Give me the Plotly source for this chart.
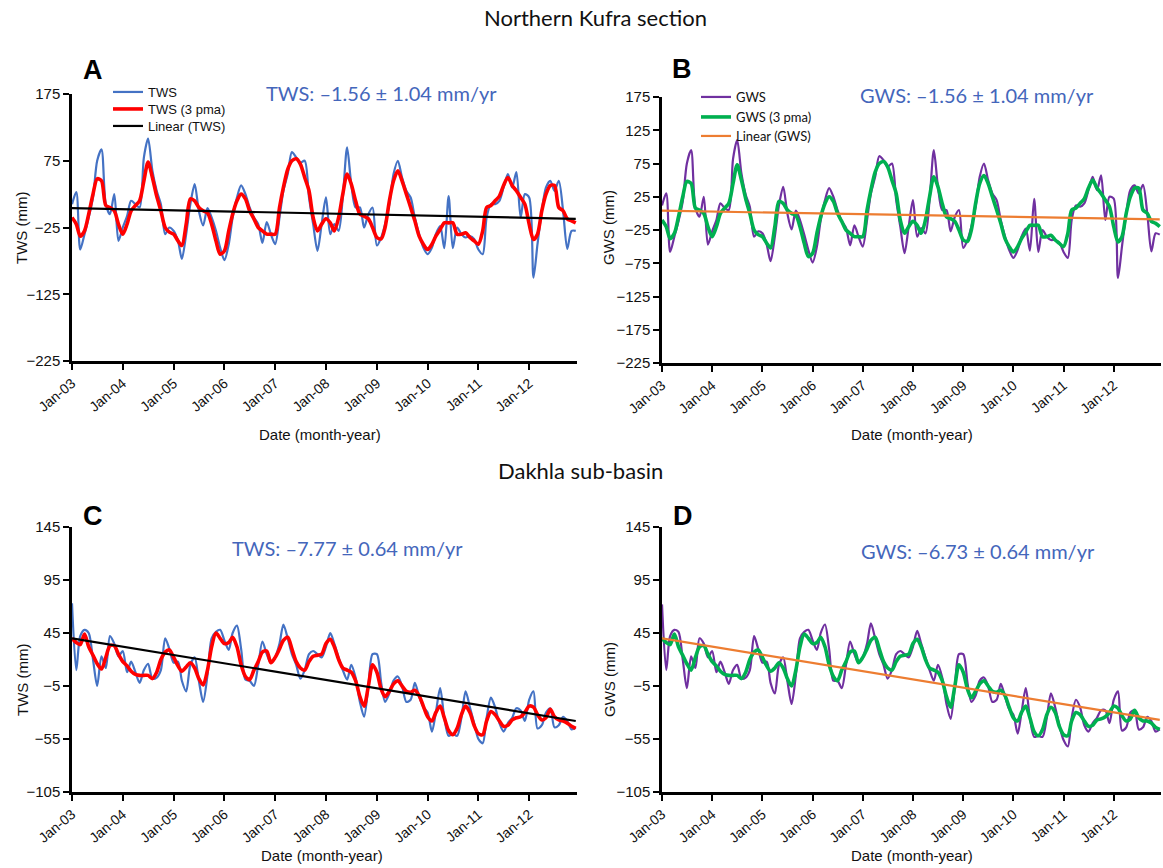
import pandas as pd
import plotly.graph_objects as go

W, H = 1163, 868
dates = pd.date_range("2003-01-01", periods=120, freq="MS")

# ---------------- Panel A : Northern Kufra TWS ----------------
tws_a = [10, 28, -58, -35, -10, 20, 75, 92, 10, -5, 25, -45,
         -25, -8, 15, 10, 5, 80, 108, 60, 30, 10, -35, -25,
         -30, -45, -72, -35, 10, 40, 0, -22, 4, -10, -30, -55,
         -74, -50, -10, 20, 38, 25, 5, -10, -20, -48, -17, -35,
         -50, -10, 30, 55, 88, 80, 72, 75, 20, -20, -60, -20,
         20, -35, -20, -30, 20, 95, 40, 5, 5, -25, -5, 5,
         -52, -40, -20, 10, 55, 75, 50, 30, 20, -10, -35, -55,
         -65, -55, -35, -23, -56, 22, -56, -25, -35, -40, -38, -42,
         -58, -65, -10, 10, 10, 15, 35, 55, 35, 58, -10, 25,
         20, -100, -50, 0, 35, 45, 30, 45, 0, -57, -30, -30]
tws_a_pma = [-10, -20, -38, -30, -5, 25, 48, 45, 8, 5, 0, -20,
             -35, -20, 0, 8, 15, 45, 73, 50, 22, 0, -25, -32,
             -35, -45, -52, -20, 18, 15, 5, 0, -3, -20, -45, -65,
             -60, -30, -5, 15, 25, 18, 0, -12, -25, -30, -35, -35,
             -35, 5, 35, 62, 75, 78, 70, 50, 30, -10, -30, -20,
             -12, -18, -30, -10, 25, 55, 40, 15, -5, -8, -12, -25,
             -40, -42, -25, 15, 45, 60, 45, 25, 5, -15, -38, -50,
             -58, -50, -38, -28, -18, -18, -18, -35, -35, -33, -40, -45,
             -50, -30, 5, 8, 15, 22, 38, 50, 38, 30, 20, 10,
             -20, -43, -35, 0, 25, 38, 38, 5, 0, -12, -15, -18]
lin_a = [4, -12]

# ---------------- Panel B : Northern Kufra GWS ----------------
gws_b = [12, 30, -58, -35, -12, 18, 75, 95, 8, -5, 25, -47,
         -27, -10, 15, 8, 5, 82, 110, 60, 28, 10, -35, -27,
         -30, -47, -72, -35, 12, 40, 0, -24, 4, -10, -32, -55,
         -74, -50, -10, 20, 38, 25, 5, -12, -22, -48, -18, -35,
         -50, -10, 30, 55, 86, 80, 70, 75, 20, -20, -60, -20,
         20, -35, -22, -30, 20, 95, 40, 5, 5, -27, -5, 5,
         -52, -40, -20, 10, 55, 75, 50, 30, 20, -10, -35, -55,
         -67, -55, -35, -23, -56, 22, -58, -25, -35, -40, -40, -44,
         -58, -67, -10, 12, 10, 15, 35, 55, 35, 57, -10, 25,
         22, -97, -50, 0, 35, 42, 30, 43, 0, -57, -30, -32]
gws_b_pma = [-10, -20, -38, -30, -5, 25, 48, 45, 8, 5, 0, -20,
             -35, -20, 0, 8, 15, 45, 73, 50, 22, 0, -25, -32,
             -35, -45, -52, -20, 18, 15, 5, 0, -3, -20, -45, -65,
             -60, -30, -5, 15, 25, 18, 0, -12, -25, -30, -35, -35,
             -35, 5, 35, 62, 75, 78, 70, 50, 30, -10, -30, -20,
             -12, -18, -30, -10, 25, 55, 40, 15, -5, -8, -12, -25,
             -40, -42, -25, 15, 45, 57, 45, 25, 5, -15, -38, -50,
             -58, -50, -38, -28, -18, -18, -18, -35, -35, -33, -40, -45,
             -50, -30, 5, 8, 15, 22, 38, 50, 38, 30, 20, 10,
             -20, -43, -35, 0, 25, 38, 38, 5, 0, -12, -15, -20]
lin_b = [4, -9]

# ---------------- Panel C : Dakhla TWS ----------------
tws_c = [73, 10, 42, 48, 45, 20, -5, 23, 12, 42, 35, 23,
         28, 8, 18, 8, -2, 10, 16, 2, 3, 10, 40, 30,
         17, 18, 0, -10, 15, 22, 0, -20, 5, 40, 46, 48,
         38, 29, 45, 52, 30, 1, 0, -5, 15, 37, 25, 17,
         22, 35, 53, 40, 25, 15, 2, 10, 25, 28, 25, 22,
         32, 45, 35, 22, 10, 1, 15, 3, -20, -34, -5, 25,
         25, -2, -20, -12, 0, 4, -5, -20, -18, -2, -15, -25,
         -30, -48, -30, -7, -35, -52, -50, -52, -35, -10, -25, -40,
         -55, -59, -35, -16, -25, -40, -48, -40, -35, -26, -28, -38,
         -18, -10, -45, -42, -30, -26, -44, -42, -34, -38, -46, -44]
tws_c_pma = [40, 36, 34, 44, 32, 24, 16, 11, 22, 33, 33, 25,
             18, 14, 9, 6, 5, 5, 5, 2, 8, 20, 27, 29,
             22, 14, 9, 13, 17, 12, 2, -4, 10, 32, 45, 40,
             35, 36, 41, 32, 15, 4, 1, 10, 18, 27, 28, 17,
             22, 30, 38, 41, 30, 18, 12, 10, 18, 23, 24, 25,
             35, 39, 32, 20, 12, 10, 8, 0, -15, -24, -5, 15,
             8, -8, -15, -10, -3, 0, -5, -10, -11, -9, -14, -24,
             -34, -38, -30, -24, -35, -47, -51, -45, -32, -24, -30, -42,
             -50, -51, -38, -29, -32, -38, -43, -42, -37, -35, -34, -30,
             -24, -25, -32, -37, -35, -27, -34, -37, -38, -40, -43, -45]
lin_c = [40, -38]

# ---------------- Panel D : Dakhla GWS ----------------
gws_d = [72, 10, 42, 48, 46, 20, -7, 23, 12, 40, 35, 22,
         28, 8, 18, 8, -3, 10, 15, 2, 3, 10, 42, 30,
         17, 18, -2, -12, 15, 22, 0, -22, 5, 40, 46, 48,
         38, 29, 45, 53, 30, 0, 0, -7, 15, 37, 25, 17,
         22, 35, 54, 40, 25, 15, 2, 10, 25, 28, 25, 22,
         32, 47, 35, 22, 10, 0, 15, 3, -22, -36, -5, 25,
         25, -2, -20, -14, 0, 3, -5, -20, -18, -3, -15, -27,
         -32, -50, -30, -7, -35, -53, -52, -53, -35, -12, -25, -42,
         -56, -62, -35, -18, -25, -42, -48, -40, -35, -28, -28, -40,
         -18, -10, -47, -44, -30, -28, -46, -44, -34, -38, -48, -46]
gws_d_pma = [40, 36, 34, 44, 32, 24, 16, 10, 22, 32, 33, 25,
             18, 14, 9, 6, 5, 5, 5, 2, 8, 20, 27, 29,
             22, 14, 9, 12, 17, 12, 2, -5, 10, 32, 44, 40,
             35, 36, 41, 32, 15, 4, 0, 10, 18, 27, 28, 17,
             22, 30, 38, 41, 30, 18, 12, 10, 18, 23, 24, 25,
             35, 39, 32, 20, 12, 10, 8, 0, -15, -25, -5, 15,
             8, -8, -16, -10, -3, 0, -5, -10, -11, -9, -14, -25,
             -35, -38, -30, -24, -35, -48, -52, -46, -32, -25, -30, -43,
             -51, -52, -38, -30, -32, -38, -43, -42, -37, -36, -34, -30,
             -24, -26, -33, -38, -36, -28, -35, -38, -38, -40, -44, -46]
lin_d = [40, -37]

tick_dates = pd.date_range("2003-01-01", periods=10, freq="12MS")
tick_labels = ["Jan-03", "Jan-04", "Jan-05", "Jan-06", "Jan-07",
               "Jan-08", "Jan-09", "Jan-10", "Jan-11", "Jan-12"]
yticks_top_a = [175, 75, -25, -125, -225]
yticks_top_b = [175, 125, 75, 25, -25, -75, -125, -175, -225]
yticks_bot = [145, 95, 45, -5, -55, -105]

def px(x):
    return x / W

def py(y):
    return 1 - y / H

fig = go.Figure()

panels = [
    dict(ax="", xd=(72, 577), yd=(94, 361), yt=yticks_top_a, yr=(-225, 175),
         raw=tws_a, pma=tws_a_pma, lin=lin_a, names=("TWS", "TWS (3 pma)", "Linear (TWS)"),
         cols=("#4472C4", "#FF0000", "#000000"),
         legs=(("legend", 92), ("legend2", 109), ("legend3", 126)), legx=108, legfont="Liberation Sans, Arial, sans-serif"),
    dict(ax="2", xd=(662, 1161), yd=(97, 363), yt=yticks_top_b, yr=(-225, 175),
         raw=gws_b, pma=gws_b_pma, lin=lin_b, names=("GWS", "GWS (3 pma)", "Linear (GWS)"),
         cols=("#7030A0", "#00B050", "#ED7D31"),
         legs=(("legend4", 97), ("legend5", 117), ("legend6", 136)), legx=696, legfont="Lato, sans-serif"),
    dict(ax="3", xd=(72, 577), yd=(527, 792), yt=yticks_bot, yr=(-105, 145),
         raw=tws_c, pma=tws_c_pma, lin=lin_c, names=("TWS", "TWS (3 pma)", "Linear (TWS)"),
         cols=("#4472C4", "#FF0000", "#000000"), legs=None),
    dict(ax="4", xd=(662, 1161), yd=(527, 792), yt=yticks_bot, yr=(-105, 145),
         raw=gws_d, pma=gws_d_pma, lin=lin_d, names=("GWS", "GWS (3 pma)", "Linear (GWS)"),
         cols=("#7030A0", "#00B050", "#ED7D31"), legs=None),
]

arial = "Liberation Sans, Arial, sans-serif"
tickfont = dict(family=arial, size=15, color="#111")
legend_layout = {}
for p in panels:
    xa = "x" + p["ax"]
    ya = "y" + p["ax"]
    show = p["legs"] is not None
    legnames = [l[0] for l in p["legs"]] if show else ["legend"] * 3
    series = [
        (dates, p["raw"], dict(color=p["cols"][0], width=2.2, shape="spline", smoothing=0.8)),
        (dates, p["pma"], dict(color=p["cols"][1], width=3.6, shape="spline", smoothing=0.8)),
        ([dates[0], dates[-1]], p["lin"], dict(color=p["cols"][2], width=2.2)),
    ]
    for i, (xs, ys, ln) in enumerate(series):
        fig.add_trace(go.Scatter(x=xs, y=ys, mode="lines", name=p["names"][i], line=ln,
                                 xaxis=xa, yaxis=ya, showlegend=show, legend=legnames[i]))
    if show:
        for (lname, ly) in p["legs"]:
            legend_layout[lname] = dict(x=px(p["legx"]), y=py(ly), xanchor="left", yanchor="middle",
                                        font=dict(family=p["legfont"], size=13, color="#111"),
                                        bgcolor="rgba(0,0,0,0)", borderwidth=0, itemwidth=30)
    fig.update_layout({
        "xaxis" + p["ax"]: dict(
            domain=[px(p["xd"][0]), px(p["xd"][1])], anchor=ya, automargin=False,
            range=["2003-01-01", "2012-12-10"], tickvals=list(tick_dates), ticktext=tick_labels,
            tickangle=-40, tickfont=dict(family=arial, size=14, color="#111"),
            ticks="outside", ticklen=6, tickwidth=2, tickcolor="black",
            showline=True, linecolor="black", linewidth=2.5, showgrid=False, zeroline=False),
        "yaxis" + p["ax"]: dict(
            domain=[py(p["yd"][1]), py(p["yd"][0])], anchor=xa, automargin=False,
            range=list(p["yr"]), tickvals=p["yt"], ticktext=[str(v).replace("-", "\u2212") for v in p["yt"]],
            tickfont=tickfont, ticks="outside", ticklen=6, tickwidth=2, tickcolor="black",
            showline=True, linecolor="black", linewidth=2.5, showgrid=False, zeroline=False),
    })

fig.update_layout(
    template="none",
    width=W, height=H, margin=dict(l=0, r=0, t=0, b=0, autoexpand=False),
    paper_bgcolor="white", plot_bgcolor="white",
    **legend_layout,
)

ann = []
def text(x, y, s, size, color="#111", family="Lato, sans-serif", bold=False, angle=0, xanchor="center"):
    ann.append(dict(x=px(x), y=py(y), xref="paper", yref="paper", text=("<b>%s</b>" % s) if bold else s,
                    showarrow=False, font=dict(family=family, size=size, color=color),
                    xanchor=xanchor, yanchor="middle", textangle=angle))

text(595, 18, "Northern Kufra section", 22)
text(580, 470, "Dakhla sub-basin", 22)
for (x, y, s) in [(93, 70, "A"), (682, 69, "B"), (93, 516, "C"), (683, 516, "D")]:
    text(x, y, s, 27, family=arial, bold=True, color="black")
blue = "#4466BB"
text(381, 93, "TWS: \u20131.56 \u00b1 1.04 mm/yr", 20, color=blue)
text(977, 95, "GWS: \u20131.56 \u00b1 1.04 mm/yr", 20, color=blue)
text(347, 548, "TWS: \u20137.77 \u00b1 0.64 mm/yr", 20, color=blue)
text(978, 551, "GWS: \u20136.73 \u00b1 0.64 mm/yr", 20, color=blue)
for (x, y, s) in [(22, 228, "TWS (mm)"), (609, 228, "GWS (mm)"), (22, 680, "TWS (mm)"), (609, 680, "GWS (mm)")]:
    text(x, y, s, 15, family=arial, angle=-90)
for (x, y) in [(320, 434), (912, 434), (322, 855), (912, 855)]:
    text(x, y, "Date (month-year)", 15, family=arial)
fig.update_layout(annotations=ann)

fig.write_html("out.html", config={"displayModeBar": False},
               post_script="document.body.style.margin='0';document.body.style.overflow='hidden';")
